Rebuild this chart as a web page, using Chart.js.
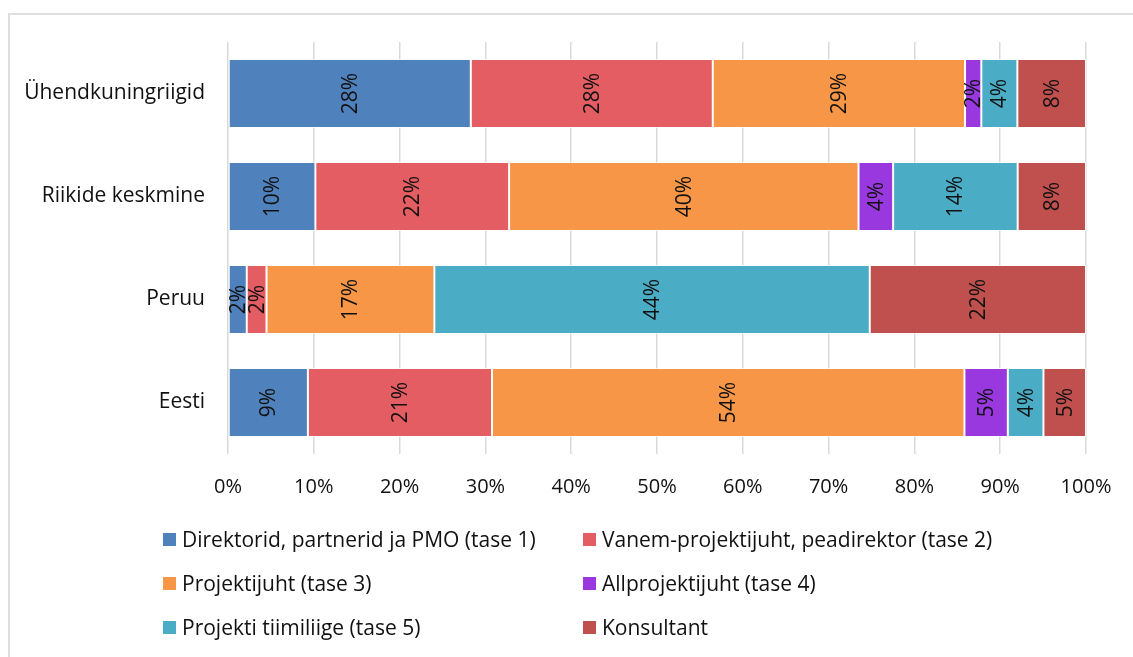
<!DOCTYPE html>
<html>
<head>
<meta charset="utf-8">
<script src="https://cdn.jsdelivr.net/npm/chart.js@4"></script>
<style>
  body { margin: 0; background: #fff; font-family: "Open Sans", sans-serif; overflow: hidden; }
  .wrap { position: relative; width: 1133px; height: 657px; overflow: hidden; }
  .frame { position: absolute; left: 8px; top: 13px; width: 1300px; height: 700px; border: 2px solid #dedede; box-sizing: border-box; }
  canvas { position: absolute; left: 0; top: 0; }
  .legend { position: absolute; left: 163px; top: 525px; display: grid; grid-template-columns: 420px 420px; row-gap: 16px; }
  .legend div { display: flex; align-items: center; font-size: 21px; color: #111; height: 28px; white-space: nowrap; }
  .legend span { display: inline-block; width: 13px; height: 13px; margin-right: 6px; }
</style>
</head>
<body>
<div class="wrap">
  <div class="frame"></div>
  <canvas id="c" width="1133" height="657"></canvas>
  <div class="legend" id="legend"></div>
</div>
<script>
const categories = ['Ühendkuningriigid', 'Riikide keskmine', 'Peruu', 'Eesti'];
const seriesNames = [
  'Direktorid, partnerid ja PMO (tase 1)',
  'Vanem-projektijuht, peadirektor (tase 2)',
  'Projektijuht (tase 3)',
  'Allprojektijuht (tase 4)',
  'Projekti tiimiliige (tase 5)',
  'Konsultant'
];
const colors = ['#4F81BD', '#E35D62', '#F79646', '#9A38DF', '#4BACC6', '#C0504D'];

// shares (raw percentages, one per category)
const direktorid = [28.3, 10.1, 1.9, 9.2];
const vanem      = [28.2, 22.4, 2.0, 21.2];
const projjuht   = [29.4, 40.4, 17.0, 54.4];
const allproj    = [1.9, 4.0, 0, 5.0];
const tiimiliige = [4.2, 14.4, 44.1, 4.1];
const konsultant = [8.0, 7.9, 21.9, 4.9];
const xTicks = [0, 10, 20, 30, 40, 50, 60, 70, 80, 90, 100];

const raw = [direktorid, vanem, projjuht, allproj, tiimiliige, konsultant];
const totals = categories.map((_, i) => raw.reduce((s, arr) => s + arr[i], 0));
const FONT = '"Open Sans", sans-serif';

const datasets = raw.map((arr, k) => ({
  label: seriesNames[k],
  data: arr.map((v, i) => v / totals[i] * 100),
  raw: arr,
  backgroundColor: colors[k],
  borderColor: 'rgba(255,255,255,0.7)',
  borderWidth: 1,
  borderSkipped: false,
  categoryPercentage: 0.67,
  barPercentage: 1
}));

const barLabels = {
  id: 'barLabels',
  afterDatasetsDraw(chart) {
    const ctx = chart.ctx;
    ctx.save();
    ctx.font = '21px ' + FONT;
    ctx.fillStyle = '#111';
    ctx.textAlign = 'center';
    ctx.textBaseline = 'middle';
    chart.data.datasets.forEach((ds, k) => {
      chart.getDatasetMeta(k).data.forEach((bar, i) => {
        const v = ds.raw[i];
        if (!v) return;
        const x = (bar.x + bar.base) / 2;
        ctx.save();
        ctx.translate(x, bar.y);
        ctx.rotate(-Math.PI / 2);
        ctx.fillText(Math.round(v) + '%', 0, 1);
        ctx.restore();
      });
    });
    ctx.restore();
  }
};

new Chart(document.getElementById('c'), {
  type: 'bar',
  data: { labels: categories, datasets: datasets },
  plugins: [barLabels],
  options: {
    indexAxis: 'y',
    responsive: false,
    animation: false,
    layout: { padding: { left: 0, top: 42, right: 47, bottom: 0 } },
    plugins: { legend: { display: false }, tooltip: { enabled: false } },
    scales: {
      x: {
        stacked: true,
        min: 0,
        max: 100,
        afterFit: s => { s.height = 203; },
        afterBuildTicks: s => { s.ticks = xTicks.map(v => ({ value: v })); },
        grid: { color: '#d9d9d9', lineWidth: 1.5, drawTicks: false },
        border: { display: false },
        ticks: {
          padding: 21,
          color: '#111',
          font: { size: 20, family: FONT },
          callback: v => v + '%'
        }
      },
      y: {
        stacked: true,
        afterFit: s => { s.width = 228; },
        grid: { display: false },
        border: { display: false },
        ticks: {
          padding: 15,
          color: '#111',
          font: { size: 21, family: FONT }
        }
      }
    }
  }
});

const legend = document.getElementById('legend');
seriesNames.forEach((name, k) => {
  const d = document.createElement('div');
  d.innerHTML = '<span style="background:' + colors[k] + '"></span>' + name;
  legend.appendChild(d);
});
</script>
</body>
</html>
